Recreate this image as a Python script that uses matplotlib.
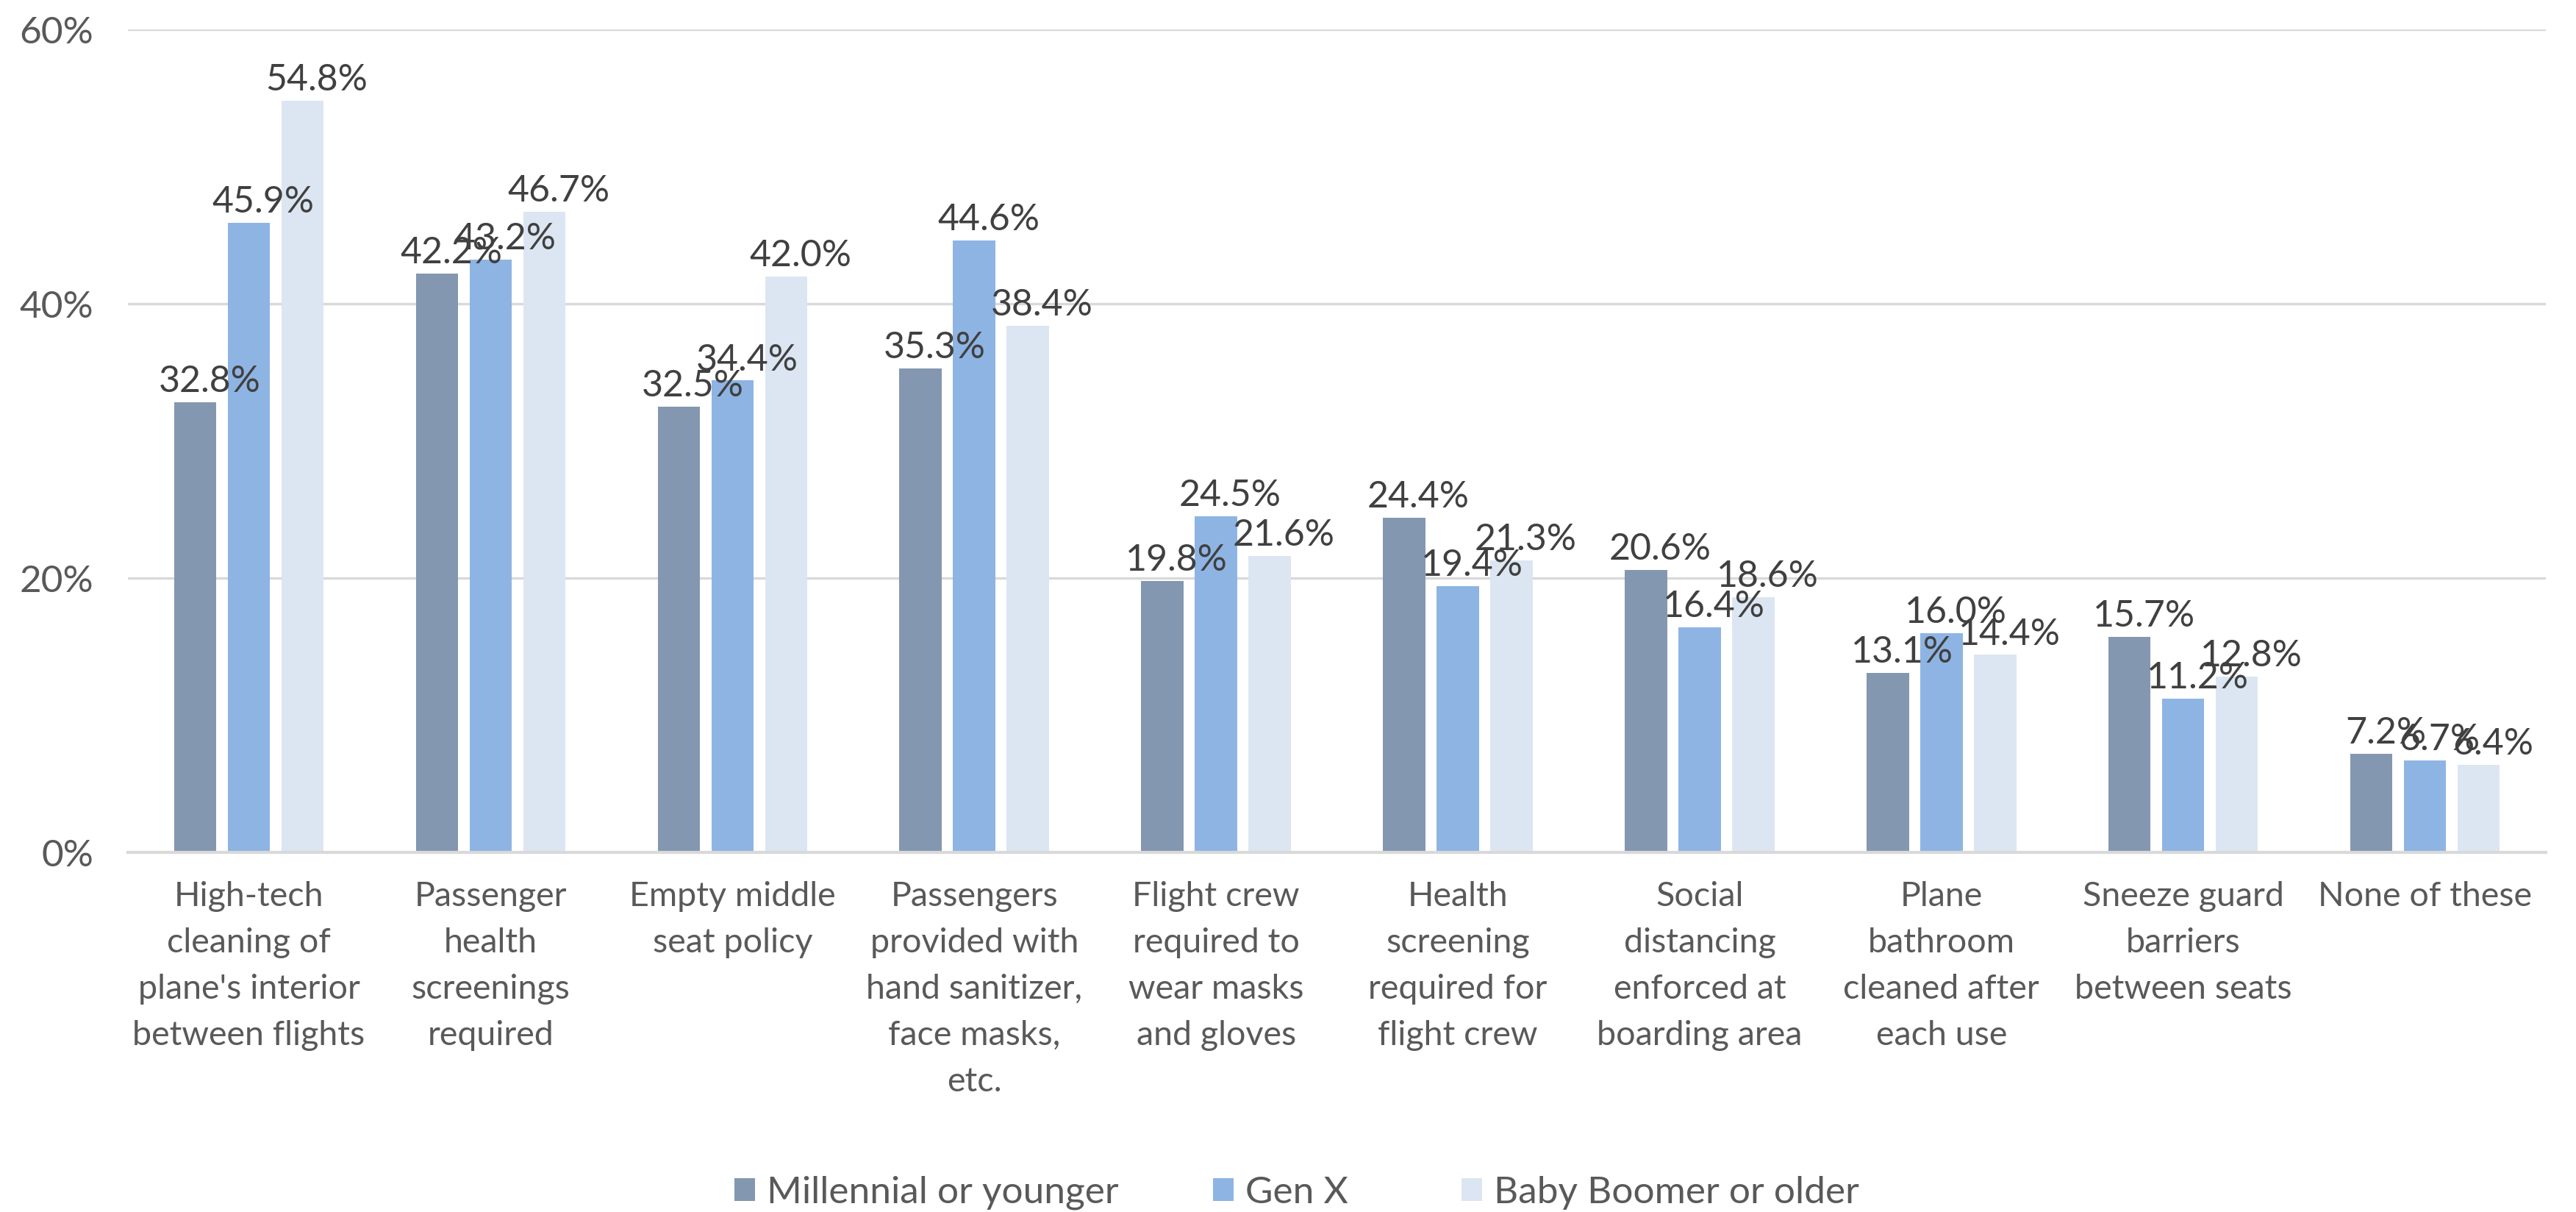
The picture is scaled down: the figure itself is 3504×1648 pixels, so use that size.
import numpy as np
import matplotlib.pyplot as plt
from matplotlib.patches import Patch

plt.rcParams['font.family'] = ['Lato', 'DejaVu Sans']

categories = [
    "High-tech\ncleaning of\nplane's interior\nbetween flights",
    "Passenger\nhealth\nscreenings\nrequired",
    "Empty middle\nseat policy",
    "Passengers\nprovided with\nhand sanitizer,\nface masks,\netc.",
    "Flight crew\nrequired to\nwear masks\nand gloves",
    "Health\nscreening\nrequired for\nflight crew",
    "Social\ndistancing\nenforced at\nboarding area",
    "Plane\nbathroom\ncleaned after\neach use",
    "Sneeze guard\nbarriers\nbetween seats",
    "None of these",
]
series_names = ["Millennial or younger", "Gen X", "Baby Boomer or older"]
millennial = [32.8, 42.2, 32.5, 35.3, 19.8, 24.4, 20.6, 13.1, 15.7, 7.2]
gen_x = [45.9, 43.2, 34.4, 44.6, 24.5, 19.4, 16.4, 16.0, 11.2, 6.7]
boomer = [54.8, 46.7, 42.0, 38.4, 21.6, 21.3, 18.6, 14.4, 12.8, 6.4]
yticks = [0, 20, 40, 60]

colors = ["#8497B0", "#8EB4E3", "#DCE6F2"]
label_color = "#404040"
axis_color = "#595959"
grid_color = "#D9D9D9"

fig = plt.figure(figsize=(17.52, 8.24), dpi=200)
ax = fig.add_axes([0.0497, 0.2967, 0.9386, 0.679])

x = np.arange(len(categories))
width = 0.175
step = 0.222
for i, (vals, name) in enumerate(zip([millennial, gen_x, boomer], series_names)):
    pos = x + (i - 1) * step
    bars = ax.bar(pos, vals, width=width, color=colors[i], label=name, zorder=2)
    for b, v in zip(bars, vals):
        ax.annotate(f"{v:.1f}%", (b.get_x() + b.get_width() / 2, v),
                    xytext=(7, 5), textcoords="offset points",
                    ha="center", va="baseline", fontsize=18, color=label_color)

ax.set_xlim(-0.5, len(categories) - 0.5)
ax.set_ylim(0, 60)
ax.set_yticks(yticks)
ax.set_yticklabels([f"{t}%" for t in yticks])
ax.set_xticks(x)
ax.set_xticklabels(categories, linespacing=1.62, fontsize=16.8)
ax.tick_params(axis="both", length=0, colors=axis_color)
ax.tick_params(axis="y", pad=17, labelsize=18.5)
ax.tick_params(axis="x", pad=14)
ax.grid(axis="y", color=grid_color, linewidth=1.2, zorder=0)
for s in ["top", "right", "left"]:
    ax.spines[s].set_visible(False)
ax.spines["bottom"].set_color(grid_color)
ax.spines["bottom"].set_linewidth(1.5)

# legend entries placed one by one, like the spread-out Excel legend
legend_x = [999 / 3504, 1650 / 3504, 1988 / 3504]
for c, n, lx in zip(colors, series_names, legend_x):
    leg = fig.legend(handles=[Patch(facecolor=c, label=n)], loc="center left",
                     bbox_to_anchor=(lx, 0.016), frameon=False, fontsize=18.5,
                     handlelength=0.55, handleheight=0.55, handletextpad=0.3,
                     borderpad=0, borderaxespad=0)
    for t in leg.get_texts():
        t.set_color(axis_color)

fig.savefig("out.png", dpi=200)
